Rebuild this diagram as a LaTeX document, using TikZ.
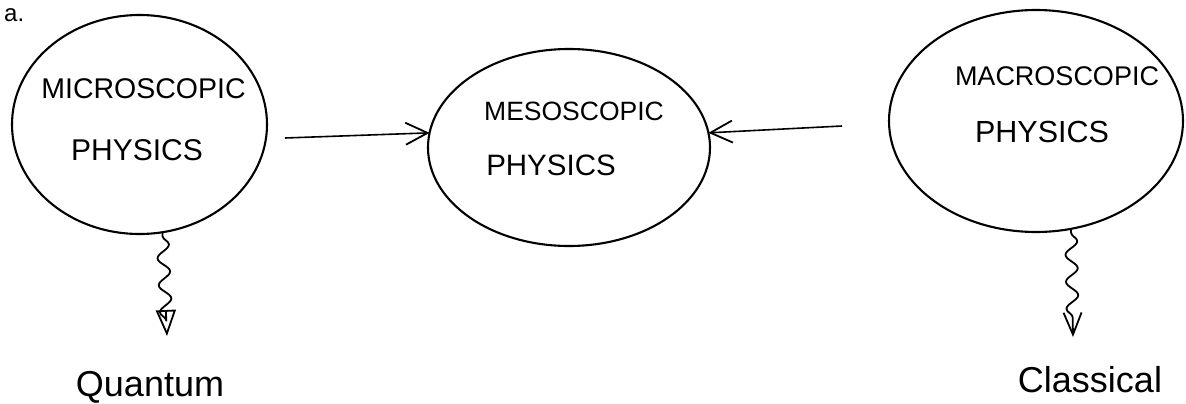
\documentclass[tikz,border=0pt]{standalone}
\usepackage{fontspec}
\setmainfont{Liberation Sans}
\usetikzlibrary{shapes.geometric,arrows.meta,decorations.pathmorphing}
\begin{document}
\begin{tikzpicture}[x=1pt,y=-1pt,
  blob/.style={draw,ellipse,line width=2.1pt,inner sep=0pt,outer sep=0pt},
  caps/.style={anchor=base,inner sep=0pt},
  hand/.style={anchor=base,inner sep=0pt,font=\fontsize{36}{40}\selectfont},
  link/.style={line width=1.6pt,-{Straight Barb[length=22pt,width=22pt,line width=1.8pt]}},
  wavy/.style={line width=1.8pt,decorate,decoration={snake,amplitude=6pt,segment length=27pt,pre length=4pt,post length=14pt}},
  qtip/.style={-{Triangle[open,length=26pt,width=20pt,line width=1.8pt]}},
  ctip/.style={-{Straight Barb[length=22pt,width=18pt,line width=1.8pt]}}]
\useasboundingbox (0,0) rectangle (1186,404);
\node[anchor=base west,inner sep=0pt,font=\fontsize{24}{28}\selectfont] (lab) at (4,22) {a.};
% shapes
\node[blob,minimum width=255pt,minimum height=219pt] (micro) at (139.5,124.5) {};
\node[blob,minimum width=282pt,minimum height=197pt] (meso) at (569,147.5) {};
\node[blob,minimum width=294pt,minimum height=222pt] (macro) at (1036,121) {};
% texts
\node[caps,font=\fontsize{28.5}{30}\selectfont] (t1) at (143.5,98) {MICROSCOPIC};
\node[caps,font=\fontsize{30}{32}\selectfont] (t2) at (137,160) {PHYSICS};
\node[caps,font=\fontsize{26.5}{30}\selectfont] (t3) at (574,120) {MESOSCOPIC};
\node[caps,font=\fontsize{29.5}{32}\selectfont] (t4) at (551,175) {PHYSICS};
\node[caps,font=\fontsize{27}{30}\selectfont] (t5) at (1057,85) {MACROSCOPIC};
\node[caps,font=\fontsize{30.5}{32}\selectfont] (t6) at (1042,142) {PHYSICS};
% straight arrows
\coordinate (l0) at (285,138);
\coordinate (r0) at (842,126);
\draw[link] (l0) -- (meso.174);
\draw[link] (r0) -- (meso.6);
% wavy arrows
\coordinate (qe) at (167,336);
\coordinate (ce) at (1073,337);
\draw[wavy,qtip] (micro.-78) -- (qe);
\draw[wavy,ctip] (macro.-72) -- (ce);
\node[hand] (quantum) at (150,396) {Quantum};
\node[hand] (classical) at (1090,392) {Classical};
\end{tikzpicture}
\end{document}
